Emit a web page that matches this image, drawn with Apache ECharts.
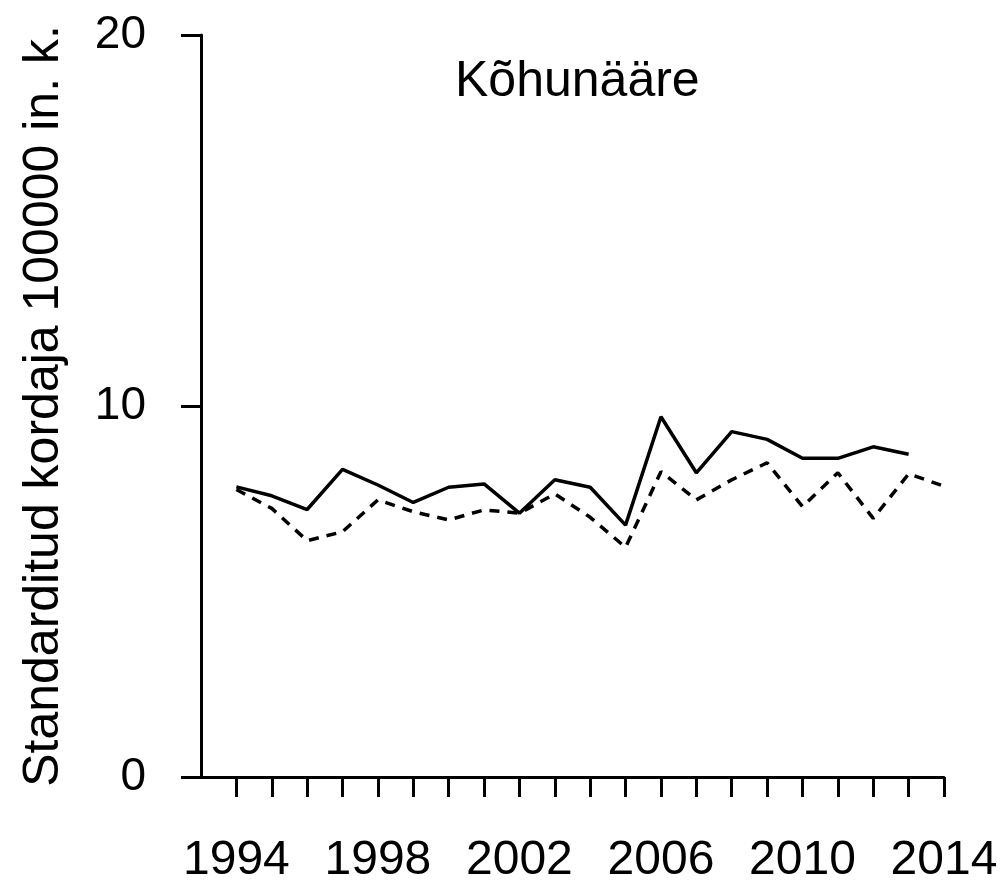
<!DOCTYPE html>
<html>
<head>
<meta charset="utf-8">
<script src="https://cdn.jsdelivr.net/npm/echarts@6/dist/echarts.min.js"></script>
<style>
  html, body { margin: 0; padding: 0; background: #fff; }
  #chart { width: 1007px; height: 885px; }
</style>
</head>
<body>
<div id="chart"></div>
<script>
const years = [1994, 1995, 1996, 1997, 1998, 1999, 2000, 2001, 2002, 2003,
  2004, 2005, 2006, 2007, 2008, 2009, 2010, 2011, 2012, 2013, 2014]
// solid line, ends in 2013
const solidValues = [7.82, 7.58, 7.21, 8.29, 7.87, 7.40, 7.81, 7.90, 7.11, 8.01,
  7.81, 6.79, 9.71, 8.20, 9.31, 9.10, 8.59, 8.59, 8.90, 8.70]
// dashed line
const dashedValues = [7.75, 7.24, 6.37, 6.61, 7.47, 7.15, 6.93, 7.20, 7.11, 7.63,
  7.00, 6.19, 8.23, 7.47, 8.01, 8.47, 7.29, 8.20, 6.97, 8.17, 7.84]
const yTicks = [0, 10, 20]
const xLabelYears = [1994, 1998, 2002, 2006, 2010, 2014]

const font = 'Liberation Sans, Arial, sans-serif'

const myChart = echarts.init(document.getElementById('chart'), null, { renderer: 'canvas' })

const option = {
  animation: false,
  backgroundColor: '#fff',
  title: {
    text: 'Kõhunääre',
    left: 450,
    top: 52,
    textStyle: {
      fontFamily: font,
      fontSize: 50,
      fontWeight: 'normal',
      color: '#000'
    }
  },
  grid: {
    left: 201,
    right: 63,
    top: 35,
    bottom: 108
  },
  xAxis: {
    type: 'value',
    min: years[0] - 1,
    max: years[years.length - 1],
    interval: 1,
    axisLine: { lineStyle: { color: '#000', width: 3 } },
    axisTick: {
      show: true,
      length: 20,
      customValues: years,
      lineStyle: { color: '#000', width: 3 }
    },
    axisLabel: {
      margin: 60,
      fontFamily: font,
      fontSize: 48,
      color: '#000',
      customValues: xLabelYears,
      formatter: v => String(v)
    },
    splitLine: { show: false }
  },
  yAxis: {
    type: 'value',
    min: yTicks[0],
    max: yTicks[yTicks.length - 1],
    interval: yTicks[1] - yTicks[0],
    name: 'Standarditud kordaja 100000 in. k.',
    nameLocation: 'middle',
    nameGap: 132,
    nameRotate: 90,
    nameTextStyle: {
      fontFamily: font,
      fontSize: 50,
      color: '#000'
    },
    axisLine: { show: true, lineStyle: { color: '#000', width: 3 } },
    axisTick: {
      show: true,
      length: 20,
      lineStyle: { color: '#000', width: 3 }
    },
    axisLabel: {
      margin: 55,
      fontFamily: font,
      fontSize: 46,
      color: '#000'
    },
    splitLine: { show: false }
  },
  series: [
    {
      name: 'solid',
      type: 'line',
      data: solidValues.map((v, i) => [years[i], v]),
      symbol: 'none',
      lineStyle: { color: '#000', width: 3.5 }
    },
    {
      name: 'dashed',
      type: 'line',
      data: dashedValues.map((v, i) => [years[i], v]),
      symbol: 'none',
      lineStyle: { color: '#000', width: 3.5, type: [10, 8] }
    }
  ]
}

myChart.setOption(option)
window.onresize = myChart.resize
</script>
</body>
</html>
